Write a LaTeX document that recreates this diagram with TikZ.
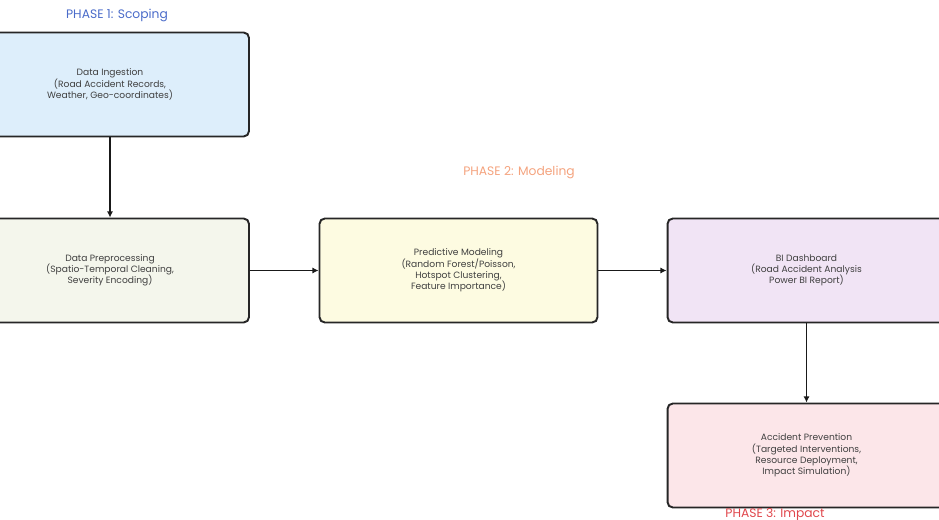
\documentclass[tikz,border=0pt]{standalone}
\usepackage{fontspec}
\setmainfont{Poppins}
\usetikzlibrary{arrows.meta}

\definecolor{scopefill}{HTML}{DDEEFB}
\definecolor{prepfill}{HTML}{F4F6EC}
\definecolor{modelfill}{HTML}{FDFBE1}
\definecolor{dashfill}{HTML}{F1E4F5}
\definecolor{impactfill}{HTML}{FCE6E9}
\definecolor{phaseblue}{HTML}{4A6BC9}
\definecolor{phaseorange}{HTML}{F4A37E}
\definecolor{phasered}{HTML}{E0474C}

\begin{document}
\begin{tikzpicture}[x=0.02cm, y=-0.02cm,
		stepbox/.style={draw=black!85, line width=1.1pt, rounded corners=3pt,
			minimum width=5.56cm, minimum height=2.08cm, align=center,
			text=black!75, font=\fontsize{5.2}{6.4}\selectfont},
		phase/.style={font=\fontsize{7}{8}\selectfont},
		flow/.style={-{Latex[length=3.5pt,width=3.5pt]}, line width=1.1pt, black!90}]
		\useasboundingbox (0,0) rectangle (939,520);
		\clip (0,0) rectangle (939,520);
		
		% Boxes
		\node[stepbox, fill=scopefill] (ingest) at (110,84.5)
			{Data Ingestion\\(Road Accident Records,\\Weather, Geo-coordinates)};
		\node[stepbox, fill=prepfill] (prep) at (110,270.5)
			{Data Preprocessing\\(Spatio-Temporal Cleaning,\\Severity Encoding)};
		\node[stepbox, fill=modelfill] (model) at (458.5,270.5)
			{Predictive Modeling\\(Random Forest/Poisson,\\Hotspot Clustering,\\Feature Importance)};
		\node[stepbox, fill=dashfill] (dash) at (806.5,270.5)
			{BI Dashboard\\(Road Accident Analysis\\Power BI Report)};
		\node[stepbox, fill=impactfill] (prevent) at (806.5,455.5)
			{Accident Prevention\\(Targeted Interventions,\\Resource Deployment,\\Impact Simulation)};
		
		% Phase labels
		\node[phase, text=phaseblue] (p1) at (117,15) {PHASE 1: Scoping};
		\node[phase, text=phaseorange] (p2) at (519,172) {PHASE 2: Modeling};
		\node[phase, text=phasered] (p3) at (775,515) {PHASE 3: Impact};
		
		% Arrows
		\draw[flow] (ingest) -- (prep);
		\draw[flow] (prep) -- (model);
		\draw[flow] (model) -- (dash);
		\draw[flow] (dash) -- (prevent);
	\end{tikzpicture}
\end{document}
